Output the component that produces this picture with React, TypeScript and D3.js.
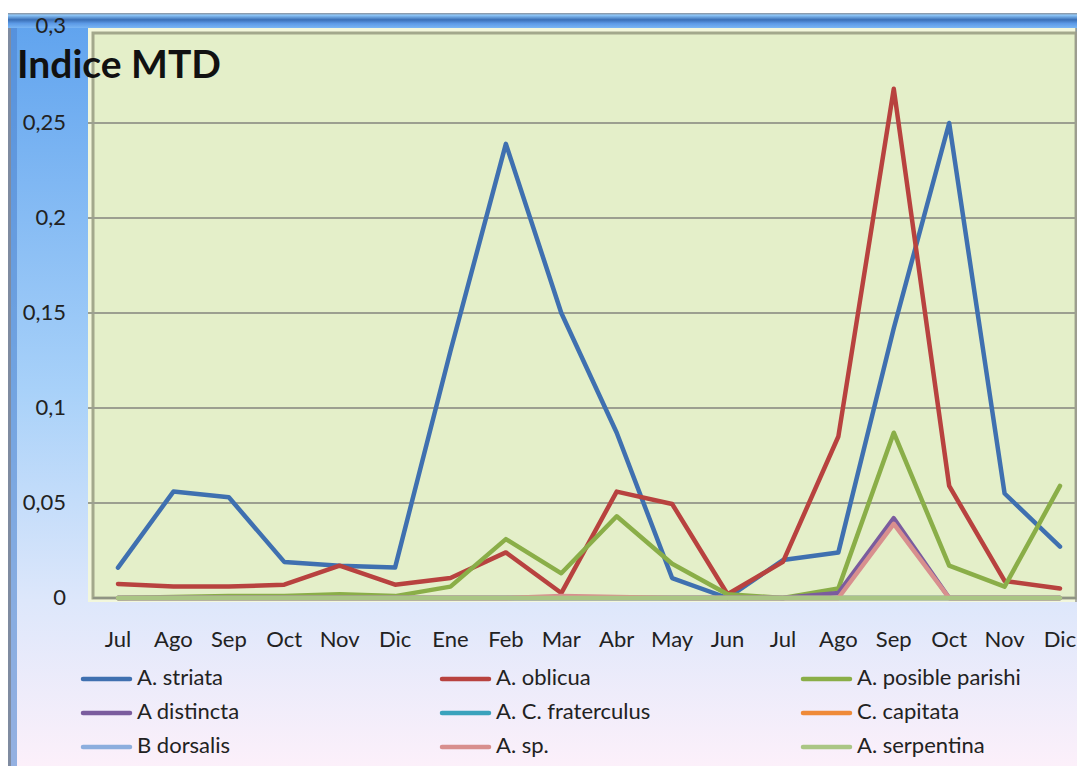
import React from 'react';
import * as d3 from 'd3';

// meses (dos años: Jul..Dic, Ene..Dic)
const months = ['Jul', 'Ago', 'Sep', 'Oct', 'Nov', 'Dic', 'Ene', 'Feb', 'Mar', 'Abr', 'May', 'Jun', 'Jul', 'Ago', 'Sep', 'Oct', 'Nov', 'Dic'];
const yTicks = [0, 0.05, 0.1, 0.15, 0.2, 0.25, 0.3];

const striata = [0.016, 0.056, 0.053, 0.019, 0.017, 0.016, 0.13, 0.239, 0.15, 0.087, 0.0105, 0, 0.02, 0.024, 0.142, 0.25, 0.055, 0.027];
const oblicua = [0.0074, 0.006, 0.006, 0.007, 0.017, 0.007, 0.0105, 0.024, 0.0026, 0.056, 0.0495, 0.002, 0.019, 0.085, 0.268, 0.059, 0.009, 0.005];
const parishi = [0, 0.0005, 0.001, 0.001, 0.002, 0.001, 0.006, 0.031, 0.013, 0.043, 0.018, 0.002, 0, 0.005, 0.087, 0.017, 0.006, 0.059];
const distincta = [0, 0, 0, 0, 0, 0, 0, 0, 0, 0, 0, 0, 0, 0.0026, 0.042, 0, 0, 0];
const fraterculus = [0, 0, 0, 0, 0, 0, 0, 0, 0, 0, 0, 0, 0, 0, 0, 0, 0, 0];
const capitata = [0, 0, 0, 0, 0, 0, 0, 0, 0, 0, 0, 0, 0, 0, 0, 0, 0, 0];
const dorsalis = [0, 0, 0, 0, 0, 0, 0, 0, 0, 0, 0, 0, 0, 0, 0, 0, 0, 0];
const aSp = [0, 0, 0, 0, 0, 0, 0, 0, 0.001, 0.0005, 0, 0, 0, 0, 0.039, 0, 0, 0];
const serpentina = [0, 0, 0, 0, 0, 0, 0, 0, 0, 0, 0, 0, 0, 0, 0, 0, 0, 0];

const seriesNames = ['A. striata', 'A. oblicua', 'A. posible parishi', 'A distincta', 'A. C. fraterculus', 'C. capitata', 'B dorsalis', 'A. sp.', 'A. serpentina'];
const seriesValues = [striata, oblicua, parishi, distincta, fraterculus, capitata, dorsalis, aSp, serpentina];
const seriesColors = ['#3f70b0', '#b8423f', '#8aae48', '#7a5c9e', '#3aa2bc', '#ef8a38', '#8caede', '#d88f8e', '#aac685'];

const W = 1077;
const H = 771;
const plot = { left: 88, top: 28, right: 1076, bottom: 598 };
const font = 'Lato, "Open Sans", sans-serif';

const App: React.FC = () => {
  const x = d3.scalePoint<number>().domain(d3.range(months.length)).range([118, 1060]);
  const y = d3.scaleLinear().domain([0, 0.3]).range([plot.bottom, plot.top]);

  const line = d3
    .line<number>()
    .x((_, i) => x(i) as number)
    .y((d) => y(d));

  const fmt = (v: number) => String(v).replace('.', ',');

  const legendCols = [83, 442, 803];
  const legendRows = [679, 713, 747];

  return (
    <svg width={W} height={H} style={{ position: 'absolute', left: 0, top: 0 }} fontFamily={font}>
      <defs>
        <linearGradient id="bg" x1="0" y1="0" x2="0" y2="1">
          <stop offset="0" stopColor="#5ea2ee" />
          <stop offset="0.5" stopColor="#a8d1f9" />
          <stop offset="0.78" stopColor="#dde7fb" />
          <stop offset="1" stopColor="#fcf0fa" />
        </linearGradient>
        <linearGradient id="topbar" x1="0" y1="0" x2="0" y2="1">
          <stop offset="0" stopColor="#8a9099" />
          <stop offset="0.15" stopColor="#8ec6f8" />
          <stop offset="0.45" stopColor="#3a6fb6" />
          <stop offset="0.7" stopColor="#5c9ae6" />
          <stop offset="1" stopColor="#7ab6f4" />
        </linearGradient>
      </defs>

      <rect x={0} y={0} width={W} height={H} fill="#ffffff" />
      {/* área del gráfico */}
      <rect x={8} y={13} width={W - 8} height={753} fill="url(#bg)" />
      <rect x={8} y={13} width={3} height={753} fill="#7f8ba0" />
      <rect x={11} y={13} width={6} height={753} fill="#4f86d0" opacity={0.6} />
      <rect x={8} y={13} width={W - 8} height={15} fill="url(#topbar)" />

      {/* área de trazado con bisel */}
      <rect x={plot.left} y={plot.top} width={plot.right - plot.left} height={plot.bottom - plot.top + 4} fill="#f2f7dc" />
      <rect x={plot.left + 5} y={plot.top + 5} width={plot.right - plot.left - 5} height={plot.bottom - plot.top - 5} fill="#e4efc9" stroke="#a3a88c" strokeWidth={3} />
      <line x1={plot.right} x2={plot.right} y1={plot.top} y2={plot.bottom + 4} stroke="#9a9a90" strokeWidth={1.5} />

      {/* líneas de división */}
      {yTicks.filter((t) => t > 0 && t < 0.3).map((t) => (
        <line key={t} x1={plot.left} x2={plot.right} y1={y(t)} y2={y(t)} stroke="#9c9f90" strokeWidth={2} />
      ))}
      <line x1={plot.left + 5} x2={plot.right} y1={y(0)} y2={y(0)} stroke="#8f9484" strokeWidth={2} />

      {/* etiquetas eje Y */}
      {yTicks.map((t) => (
        <text key={t} x={66} y={y(t) + (t === 0.3 ? -1 : 1)} textAnchor="end" dominantBaseline="middle" fontSize={22} fill="#222">
          {fmt(t)}
        </text>
      ))}

      {/* etiquetas eje X */}
      {months.map((m, i) => (
        <text key={i} x={x(i)} y={641} textAnchor="middle" dominantBaseline="middle" fontSize={22} fill="#222">
          {m}
        </text>
      ))}

      {/* series */}
      {seriesValues.map((vals, k) => (
        <path key={k} d={line(vals) ?? ''} fill="none" stroke={seriesColors[k]} strokeWidth={4.5} strokeLinejoin="round" strokeLinecap="round" />
      ))}

      {/* título */}
      <text x={17} y={68} fontSize={39} fontWeight="bold" fill="#111" dominantBaseline="middle">
        Indice MTD
      </text>

      {/* leyenda */}
      {seriesNames.map((name, k) => {
        const cx = legendCols[k % 3];
        const cy = legendRows[Math.floor(k / 3)];
        return (
          <g key={name}>
            <line x1={cx} x2={cx + 47} y1={cy} y2={cy} stroke={seriesColors[k]} strokeWidth={4.5} strokeLinecap="round" />
            <text x={cx + 54} y={cy} dominantBaseline="middle" fontSize={22} fill="#222">
              {name}
            </text>
          </g>
        );
      })}
    </svg>
  );
};

export default App;
